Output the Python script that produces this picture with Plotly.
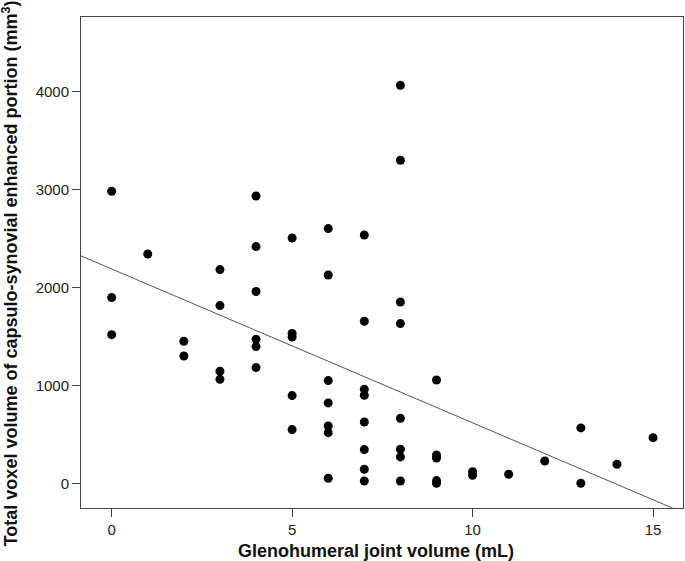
import plotly.graph_objects as go
import numpy as np

# Data
joint_volume = [0, 0, 0,
                1,
                2, 2,
                3, 3, 3, 3,
                4, 4, 4, 4, 4, 4,
                5, 5, 5, 5, 5,
                6, 6, 6, 6, 6, 6, 6,
                7, 7, 7, 7, 7, 7, 7, 7,
                8, 8, 8, 8, 8, 8, 8, 8,
                9, 9, 9, 9, 9,
                10, 10,
                11,
                12,
                13, 13,
                14,
                15]
voxel_volume = [2983, 1898, 1520,
                2343,
                1452, 1302,
                2184, 1816, 1146, 1064,
                2935, 2418, 1960, 1472, 1398, 1184,
                2506, 1531, 1496, 898, 551,
                2602, 2129, 1051, 823, 588, 520, 54,
                2537, 1656, 962, 901, 629, 347, 146, 27,
                4064, 3299, 1853, 1633, 666, 350, 272, 27,
                1057, 292, 261, 31, 3,
                122, 85,
                95,
                231,
                568, 3,
                197,
                469]

# Fitted regression line
fit_intercept = 2190
fit_slope = -157

x_range = [-0.85, 15.83]
y_range = [-249, 4761]
x_ticks = [0, 5, 10, 15]
y_ticks = [0, 1000, 2000, 3000, 4000]

x_title = "<b>Glenohumeral joint volume (mL)</b>"
y_title = "<b>Total voxel volume of capsulo-synovial enhanced portion (mm<sup>3</sup>)</b>"

FONT = "Liberation Sans, Arial, sans-serif"

line_x = np.array(x_range)
line_y = fit_intercept + fit_slope * line_x

fig = go.Figure()
fig.add_trace(go.Scatter(
    x=line_x, y=line_y, mode="lines",
    line=dict(color="#555555", width=1),
    hoverinfo="skip", showlegend=False))
fig.add_trace(go.Scatter(
    x=joint_volume, y=voxel_volume, mode="markers",
    marker=dict(color="black", size=9, line=dict(width=0)),
    showlegend=False))

axis_common = dict(
    showline=True, linecolor="#444444", linewidth=1, mirror=True,
    ticks="outside", ticklen=8, tickcolor="#444444", tickwidth=1,
    showgrid=False, zeroline=False, automargin=False,
    tickfont=dict(family=FONT, size=15, color="#222222"),
)

fig.update_xaxes(range=x_range, tickvals=x_ticks, **axis_common)
fig.update_yaxes(range=y_range, tickvals=y_ticks, **axis_common)

fig.add_annotation(text=x_title, xref="paper", yref="paper",
                   x=(376 - 81) / 602, y=0, xanchor="center", yanchor="middle",
                   yshift=-43, showarrow=False,
                   font=dict(family=FONT, size=18, color="#111111"))
fig.add_annotation(text=y_title, xref="paper", yref="paper",
                   x=0, y=0.478, xanchor="center", yanchor="middle",
                   xshift=-71, textangle=-90, showarrow=False,
                   font=dict(family=FONT, size=18, color="#111111"))

fig.update_layout(
    width=685, height=561,
    margin=dict(l=81, r=2, t=17, b=53),
    plot_bgcolor="white", paper_bgcolor="white",
)

fig.write_html("out.html",
               config={"displayModeBar": False},
               post_script="document.body.style.margin='0';document.body.style.overflow='hidden';")
